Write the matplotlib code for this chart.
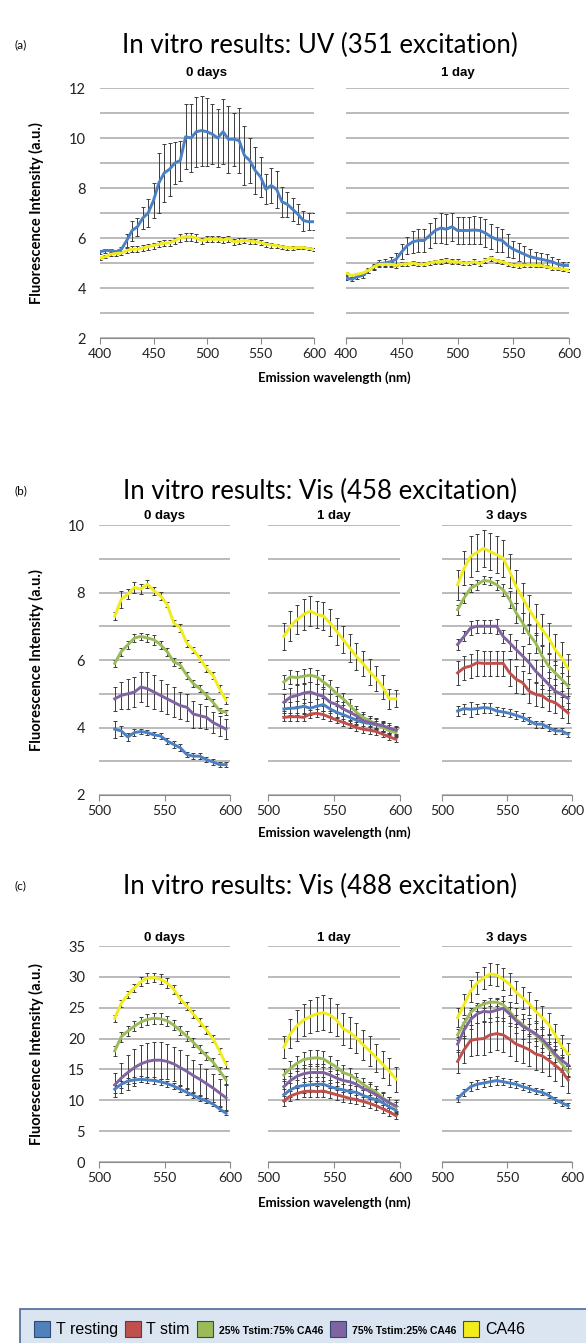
import matplotlib
matplotlib.use("Agg")
import matplotlib.pyplot as plt
from matplotlib.patches import Patch, Rectangle
from matplotlib.ticker import MultipleLocator

# ---- data ----
wl_uv = [400, 405, 410, 415, 420, 425, 430, 435, 440, 445, 450, 455, 460, 465,
         470, 475, 480, 485, 490, 495, 500, 505, 510, 515, 520, 525, 530, 535,
         540, 545, 550, 555, 560, 565, 570, 575, 580, 585, 590, 595, 600]
wl_vis = [512, 517, 522, 527, 532, 537, 542, 547, 552, 557, 562, 567, 572, 577,
          582, 587, 592, 597]

# (a) UV 351
a0_rest = [5.45, 5.5, 5.5, 5.45, 5.55, 5.9, 6.3, 6.45, 6.8, 7.0, 7.5, 8.2, 8.6, 8.75,
           9.0, 9.1, 10.05, 10.0, 10.25, 10.3, 10.25, 10.15, 10.0, 10.25, 9.95, 9.95,
           9.9, 9.3, 9.1, 8.7, 8.45, 7.95, 8.1, 7.95, 7.45, 7.35, 7.15, 6.95, 6.7, 6.65, 6.65]
a0_rest_err = [0.08, 0.08, 0.08, 0.08, 0.1, 0.25, 0.4, 0.35, 0.45, 0.55, 0.7, 1.2, 1.15,
               1.05, 0.85, 0.8, 1.3, 1.35, 1.4, 1.4, 1.35, 1.2, 1.15, 1.3, 1.35, 1.05, 1.3,
               1.2, 0.9, 0.95, 0.8, 0.6, 0.7, 0.75, 0.6, 0.5, 0.45, 0.4, 0.4, 0.35, 0.35]
a0_ca = [5.2, 5.25, 5.35, 5.38, 5.4, 5.5, 5.55, 5.55, 5.6, 5.65, 5.7, 5.75, 5.8, 5.8,
         5.9, 6.0, 6.05, 6.05, 6.0, 5.9, 5.95, 5.95, 5.95, 5.92, 5.97, 5.85, 5.87, 5.9,
         5.88, 5.85, 5.82, 5.75, 5.72, 5.7, 5.65, 5.62, 5.6, 5.62, 5.62, 5.58, 5.55]
a0_ca_err = [0.06, 0.06, 0.08, 0.08, 0.1, 0.1, 0.12, 0.12, 0.12, 0.12, 0.12, 0.12, 0.12,
             0.12, 0.12, 0.15, 0.15, 0.15, 0.15, 0.12, 0.12, 0.12, 0.12, 0.12, 0.12, 0.12,
             0.12, 0.1, 0.1, 0.1, 0.1, 0.1, 0.1, 0.08, 0.08, 0.08, 0.08, 0.06, 0.06, 0.06, 0.06]
a1_rest = [4.4, 4.35, 4.45, 4.5, 4.7, 4.85, 4.98, 5.0, 5.05, 5.15, 5.45, 5.7, 5.85, 5.9,
           5.9, 6.1, 6.3, 6.4, 6.35, 6.45, 6.3, 6.3, 6.3, 6.32, 6.3, 6.2, 6.05, 5.95, 5.9,
           5.7, 5.55, 5.45, 5.35, 5.25, 5.2, 5.15, 5.1, 5.05, 4.95, 4.9, 4.9]
a1_rest_err = [0.08, 0.08, 0.08, 0.08, 0.1, 0.12, 0.15, 0.15, 0.2, 0.25, 0.3, 0.35, 0.45,
               0.45, 0.45, 0.5, 0.5, 0.6, 0.6, 0.55, 0.55, 0.55, 0.55, 0.55, 0.55, 0.55,
               0.5, 0.5, 0.45, 0.45, 0.35, 0.35, 0.35, 0.3, 0.25, 0.25, 0.25, 0.2, 0.2, 0.15, 0.15]
a1_ca = [4.6, 4.5, 4.55, 4.6, 4.7, 4.85, 4.95, 4.95, 4.95, 4.9, 4.95, 4.97, 5.0, 4.95,
         4.95, 5.0, 5.05, 5.05, 5.1, 5.05, 5.05, 5.0, 5.0, 5.05, 4.98, 5.1, 5.2, 5.1, 5.05,
         4.98, 4.92, 4.9, 4.92, 4.92, 4.9, 4.9, 4.85, 4.8, 4.78, 4.75, 4.72]
a1_ca_err = [0.06, 0.06, 0.06, 0.06, 0.08, 0.08, 0.08, 0.08, 0.08, 0.08, 0.08, 0.08, 0.08,
             0.08, 0.08, 0.08, 0.08, 0.1, 0.1, 0.1, 0.1, 0.08, 0.08, 0.1, 0.1, 0.1, 0.1,
             0.08, 0.08, 0.08, 0.08, 0.08, 0.06, 0.06, 0.06, 0.06, 0.06, 0.06, 0.06, 0.06, 0.06]

# (b) Vis 458
b0_rest = [3.95, 3.9, 3.72, 3.85, 3.88, 3.85, 3.78, 3.75, 3.6, 3.5, 3.4, 3.2, 3.15, 3.15, 3.05, 2.98, 2.9, 2.9]
b0_rest_err = [0.25, 0.15, 0.12, 0.1, 0.08, 0.08, 0.08, 0.08, 0.1, 0.1, 0.1, 0.08, 0.08, 0.08, 0.08, 0.08, 0.08, 0.08]
b0_25 = [5.9, 6.25, 6.45, 6.65, 6.7, 6.65, 6.6, 6.45, 6.25, 5.95, 5.85, 5.55, 5.3, 5.15, 4.95, 4.75, 4.5, 4.45]
b0_25_err = [0.1, 0.12, 0.12, 0.12, 0.1, 0.12, 0.15, 0.12, 0.12, 0.12, 0.1, 0.1, 0.1, 0.1, 0.1, 0.1, 0.08, 0.08]
b0_75 = [4.85, 4.95, 5.0, 5.05, 5.2, 5.15, 5.05, 4.95, 4.85, 4.75, 4.65, 4.6, 4.4, 4.35, 4.3, 4.15, 4.05, 3.95]
b0_75_err = [0.35, 0.4, 0.45, 0.45, 0.45, 0.5, 0.5, 0.45, 0.45, 0.45, 0.4, 0.4, 0.4, 0.35, 0.35, 0.3, 0.3, 0.3]
b0_ca = [7.3, 7.8, 7.95, 8.15, 8.1, 8.25, 8.05, 7.9, 7.65, 7.1, 6.95, 6.5, 6.3, 6.05, 5.75, 5.55, 5.15, 4.8]
b0_ca_err = [0.12, 0.25, 0.15, 0.15, 0.15, 0.12, 0.12, 0.12, 0.08, 0.1, 0.12, 0.1, 0.1, 0.1, 0.1, 0.1, 0.1, 0.1]

b1_rest = [4.55, 4.57, 4.58, 4.63, 4.57, 4.63, 4.68, 4.55, 4.45, 4.38, 4.3, 4.22, 4.15, 4.12, 4.08, 4.03, 3.95, 3.9]
b1_rest_err = [0.2, 0.2, 0.2, 0.22, 0.2, 0.2, 0.2, 0.2, 0.18, 0.18, 0.18, 0.15, 0.15, 0.15, 0.12, 0.12, 0.12, 0.12]
b1_stim = [4.3, 4.32, 4.32, 4.3, 4.4, 4.42, 4.38, 4.3, 4.22, 4.15, 4.08, 4.0, 3.95, 3.92, 3.88, 3.8, 3.72, 3.65]
b1_stim_err = [0.12, 0.12, 0.12, 0.12, 0.12, 0.12, 0.12, 0.12, 0.1, 0.1, 0.1, 0.1, 0.1, 0.1, 0.1, 0.08, 0.08, 0.08]
b1_25 = [5.35, 5.5, 5.48, 5.52, 5.55, 5.5, 5.35, 5.2, 5.0, 4.85, 4.65, 4.45, 4.3, 4.2, 4.1, 4.0, 3.9, 3.85]
b1_25_err = [0.2, 0.2, 0.2, 0.22, 0.2, 0.2, 0.2, 0.2, 0.2, 0.18, 0.18, 0.18, 0.15, 0.15, 0.15, 0.12, 0.12, 0.1]
b1_75 = [4.75, 4.9, 4.95, 5.02, 5.05, 4.98, 4.92, 4.75, 4.68, 4.55, 4.45, 4.35, 4.2, 4.15, 4.1, 4.05, 3.98, 3.92]
b1_75_err = [0.25, 0.28, 0.3, 0.3, 0.3, 0.3, 0.28, 0.25, 0.25, 0.22, 0.22, 0.2, 0.2, 0.18, 0.18, 0.15, 0.15, 0.12]
b1_ca = [6.7, 7.0, 7.2, 7.35, 7.45, 7.35, 7.3, 7.1, 6.85, 6.6, 6.35, 6.1, 5.9, 5.65, 5.45, 5.2, 4.85, 4.85]
b1_ca_err = [0.4, 0.45, 0.42, 0.45, 0.45, 0.4, 0.42, 0.4, 0.4, 0.4, 0.42, 0.4, 0.38, 0.38, 0.38, 0.35, 0.3, 0.25]

b3_rest = [4.49, 4.56, 4.54, 4.56, 4.59, 4.57, 4.49, 4.46, 4.42, 4.36, 4.3, 4.2, 4.1, 4.1, 4.0, 3.9, 3.9, 3.8]
b3_rest_err = [0.15, 0.15, 0.22, 0.15, 0.15, 0.15, 0.12, 0.12, 0.12, 0.12, 0.12, 0.1, 0.1, 0.1, 0.1, 0.1, 0.08, 0.08]
b3_stim = [5.62, 5.77, 5.82, 5.92, 5.9, 5.9, 5.9, 5.9, 5.62, 5.43, 5.33, 5.08, 4.98, 4.94, 4.8, 4.74, 4.59, 4.43]
b3_stim_err = [0.35, 0.35, 0.35, 0.38, 0.38, 0.38, 0.38, 0.38, 0.4, 0.4, 0.35, 0.35, 0.35, 0.32, 0.32, 0.3, 0.3, 0.3]
b3_25 = [7.49, 7.84, 8.13, 8.23, 8.36, 8.33, 8.23, 8.08, 7.79, 7.4, 7.1, 6.76, 6.51, 6.12, 5.82, 5.62, 5.43, 5.23]
b3_25_err = [0.15, 0.15, 0.12, 0.15, 0.12, 0.12, 0.15, 0.18, 0.25, 0.3, 0.3, 0.3, 0.3, 0.3, 0.35, 0.35, 0.35, 0.3]
b3_75 = [6.46, 6.7, 6.95, 7.0, 7.0, 7.0, 7.0, 6.7, 6.51, 6.31, 6.12, 5.92, 5.67, 5.48, 5.28, 5.08, 4.98, 4.86]
b3_75_err = [0.15, 0.15, 0.2, 0.2, 0.2, 0.2, 0.22, 0.2, 0.25, 0.28, 0.3, 0.3, 0.32, 0.35, 0.35, 0.35, 0.35, 0.32]
b3_ca = [8.23, 8.72, 9.07, 9.19, 9.31, 9.21, 9.12, 9.02, 8.63, 8.18, 7.84, 7.49, 7.2, 6.9, 6.65, 6.31, 6.07, 5.74]
b3_ca_err = [0.45, 0.5, 0.6, 0.55, 0.55, 0.55, 0.55, 0.55, 0.5, 0.5, 0.45, 0.45, 0.45, 0.45, 0.45, 0.45, 0.45, 0.45]

# (c) Vis 488
c0_rest = [11.8, 12.6, 13.1, 13.3, 13.4, 13.3, 13.2, 13.0, 12.7, 12.3, 11.8, 11.3, 10.8, 10.3, 9.9, 9.4, 8.6, 7.9]
c0_rest_err = [0.7, 0.6, 0.5, 0.5, 0.5, 0.5, 0.5, 0.5, 0.5, 0.5, 0.5, 0.5, 0.4, 0.4, 0.4, 0.3, 0.3, 0.3]
c0_25 = [18.0, 20.3, 21.2, 22.0, 22.7, 23.1, 23.3, 23.2, 22.9, 22.2, 21.3, 20.4, 19.4, 18.3, 17.2, 16.2, 14.8, 13.3]
c0_25_err = [0.8, 0.8, 0.8, 0.8, 0.8, 0.9, 0.9, 0.9, 0.8, 0.8, 0.8, 0.8, 0.7, 0.7, 0.7, 0.7, 0.6, 0.6]
c0_75 = [12.5, 13.6, 14.5, 15.3, 15.9, 16.3, 16.5, 16.5, 16.3, 15.9, 15.3, 14.7, 14.0, 13.4, 12.7, 12.0, 11.2, 10.4]
c0_75_err = [2.0, 2.5, 2.8, 3.0, 3.0, 3.0, 3.0, 3.0, 2.9, 2.8, 2.8, 2.7, 2.6, 2.5, 2.4, 2.3, 2.2, 2.0]
c0_ca = [23.3, 25.7, 27.1, 28.2, 29.2, 29.8, 29.9, 29.6, 29.0, 28.0, 26.4, 25.3, 24.0, 22.7, 21.4, 20.0, 18.0, 15.8]
c0_ca_err = [0.6, 0.6, 0.6, 0.7, 0.7, 0.8, 0.8, 0.8, 0.8, 0.7, 0.7, 0.7, 0.7, 0.6, 0.6, 0.6, 0.5, 0.5]

c1_rest = [10.9, 11.7, 12.2, 12.4, 12.5, 12.6, 12.6, 12.2, 11.9, 11.7, 11.4, 11.3, 10.8, 10.4, 10.1, 9.6, 8.9, 8.4]
c1_rest_err = [1.0, 1.1, 1.1, 1.2, 1.2, 1.2, 1.2, 1.1, 1.1, 1.0, 1.0, 1.0, 0.9, 0.9, 0.8, 0.8, 0.7, 0.7]
c1_stim = [9.9, 10.7, 11.1, 11.4, 11.5, 11.4, 11.5, 11.2, 10.9, 10.6, 10.3, 10.1, 9.8, 9.5, 9.1, 8.6, 8.1, 7.5]
c1_stim_err = [0.8, 0.8, 0.9, 0.9, 0.9, 0.9, 0.9, 0.8, 0.8, 0.8, 0.8, 0.7, 0.7, 0.7, 0.6, 0.6, 0.6, 0.5]
c1_25 = [14.1, 15.2, 16.0, 16.6, 16.8, 16.9, 16.7, 16.0, 15.4, 14.5, 14.1, 13.4, 12.6, 11.9, 11.3, 10.4, 9.6, 8.9]
c1_25_err = [1.0, 1.2, 1.2, 1.3, 1.3, 1.3, 1.3, 1.2, 1.2, 1.2, 1.1, 1.1, 1.0, 1.0, 1.0, 0.9, 0.9, 0.8]
c1_75 = [12.2, 13.2, 13.9, 14.3, 14.5, 14.5, 14.5, 14.1, 13.6, 13.2, 13.0, 12.6, 11.9, 11.5, 10.9, 10.2, 9.6, 9.1]
c1_75_err = [1.2, 1.3, 1.4, 1.4, 1.4, 1.4, 1.4, 1.3, 1.3, 1.3, 1.2, 1.2, 1.1, 1.1, 1.0, 1.0, 0.9, 0.9]
c1_ca = [18.6, 20.8, 22.1, 23.0, 23.6, 24.0, 24.2, 23.8, 23.0, 21.6, 21.0, 20.1, 19.0, 18.0, 16.9, 15.8, 14.7, 13.4]
c1_ca_err = [1.8, 2.3, 2.5, 2.6, 2.7, 2.8, 2.8, 2.7, 2.6, 2.6, 2.5, 2.5, 2.4, 2.4, 2.3, 2.2, 2.2, 2.0]

c3_rest = [10.3, 11.3, 12.2, 12.6, 12.8, 13.0, 13.2, 13.0, 12.8, 12.6, 12.2, 11.9, 11.5, 11.3, 10.8, 10.1, 9.6, 9.1]
c3_rest_err = [0.6, 0.6, 0.7, 0.7, 0.7, 0.7, 0.7, 0.6, 0.6, 0.6, 0.6, 0.6, 0.5, 0.5, 0.5, 0.5, 0.5, 0.4]
c3_stim = [16.3, 18.2, 19.7, 19.9, 20.0, 20.6, 20.8, 20.6, 19.9, 19.1, 18.7, 18.2, 17.5, 17.2, 16.5, 15.7, 14.8, 13.3]
c3_stim_err = [1.8, 2.2, 2.5, 2.6, 2.7, 2.7, 2.7, 2.7, 2.7, 2.7, 2.7, 2.6, 2.6, 2.6, 2.6, 2.6, 2.5, 2.2]
c3_25 = [20.6, 22.5, 24.2, 25.1, 25.6, 25.9, 25.9, 25.5, 24.4, 23.1, 22.3, 21.4, 20.6, 19.5, 18.4, 17.2, 15.9, 14.6]
c3_25_err = [0.9, 0.8, 0.7, 0.6, 0.6, 0.6, 0.6, 0.6, 0.7, 0.8, 0.9, 1.0, 1.0, 1.0, 1.0, 1.0, 1.0, 0.9]
c3_75 = [19.1, 21.4, 23.1, 24.0, 24.4, 24.3, 24.6, 24.9, 24.0, 22.9, 22.0, 21.4, 20.8, 19.9, 18.8, 17.5, 16.5, 15.7]
c3_75_err = [1.2, 1.3, 1.5, 1.5, 1.5, 1.6, 1.8, 2.0, 2.0, 2.0, 2.0, 2.0, 2.0, 2.0, 2.0, 2.0, 1.9, 1.8]
c3_ca = [23.4, 25.5, 27.7, 29.0, 29.8, 30.5, 30.3, 29.6, 28.8, 27.5, 26.6, 25.7, 24.4, 23.4, 22.3, 20.6, 18.8, 17.5]
c3_ca_err = [1.5, 1.7, 1.8, 1.8, 1.8, 1.8, 1.8, 1.8, 1.8, 1.8, 1.8, 1.8, 1.8, 1.8, 1.8, 1.8, 1.8, 1.8]

day_titles = ["0 days", "1 day", "3 days"]
legend_labels = ["T resting", "T stim", "25% Tstim:75% CA46", "75% Tstim:25% CA46", "CA46"]
panel_titles = ["In vitro results: UV (351 excitation)",
                "In vitro results: Vis (458 excitation)",
                "In vitro results: Vis (488 excitation)"]

# ---- styling ----
C_REST, C_STIM, C_25, C_75, C_CA = "#4a80c4", "#c0504d", "#9bbb59", "#8064a2", "#f2ec1c"
LEG_COLORS = ["#4f81bd", "#c0504d", "#9bbb59", "#8064a2", "#f2ec1c"]
GRID = "#a8a8a8"
TXT = "Lato"
ARIAL = "Liberation Sans"

W, H = 586, 1343
fig = plt.figure(figsize=(W / 100, H / 100), dpi=100)


def add_ax(x0, x1, y0, y1):
    return fig.add_axes([x0 / W, 1 - y1 / H, (x1 - x0) / W, (y1 - y0) / H])


def style(ax, ylim, major, minor, xlim, xticks, show_y):
    ax.set_xlim(xlim)
    ax.set_ylim(ylim)
    ax.yaxis.set_major_locator(MultipleLocator(major))
    ax.yaxis.set_minor_locator(MultipleLocator(minor))
    ax.grid(True, which="both", axis="y", color=GRID, lw=1.1)
    ax.set_axisbelow(True)
    for s in ["top", "right", "left"]:
        ax.spines[s].set_visible(False)
    ax.spines["bottom"].set_color("#8c8c8c")
    ax.set_xticks(xticks)
    ax.tick_params(axis="y", which="both", length=0, labelsize=10.5, pad=10, labelcolor="#222222")
    ax.tick_params(axis="x", length=4, color="#8c8c8c", labelsize=10, labelcolor="#222222", pad=3)
    for lab in ax.get_xticklabels() + ax.get_yticklabels():
        lab.set_family(TXT)
    if not show_y:
        ax.tick_params(axis="y", labelleft=False)


def series(ax, x, y, e, c):
    ax.errorbar(x, y, yerr=e, color=c, lw=2.1, ecolor="#3c3c3c",
                elinewidth=0.7, capsize=1.4, capthick=0.7, zorder=3)


def day_title(ax, txt, ypx):
    b = ax.get_position()
    fig.text((b.x0 + b.x1) / 2, 1 - ypx / H, txt, ha="center", va="center",
             fontsize=9.5, fontweight="bold", family=ARIAL)


def panel_text(tag, title, ypx, ylab_c, xlab_y):
    fig.text(14 / W, 1 - ypx / H, tag, ha="left", va="center", fontsize=8.5, family=TXT)
    fig.text(320 / W, 1 - ypx / H, title, ha="center", va="center", fontsize=18.5, family=TXT)
    fig.text(36 / W, 1 - ylab_c / H, "Fluorescence Intensity (a.u.)", rotation=90,
             ha="center", va="center", fontsize=10.5, fontweight="bold", family=TXT)
    fig.text(334 / W, 1 - xlab_y / H, "Emission wavelength (nm)", ha="center",
             va="center", fontsize=9.5, fontweight="bold", family=TXT)


# ---- panel (a) ----
a_x = [(100, 314), (346, 569)]
a_sets = [[(a0_rest, a0_rest_err, C_REST), (a0_ca, a0_ca_err, C_CA)],
          [(a1_rest, a1_rest_err, C_REST), (a1_ca, a1_ca_err, C_CA)]]
for i, (xr, sets) in enumerate(zip(a_x, a_sets)):
    ax = add_ax(xr[0], xr[1], 88, 338)
    style(ax, (2, 12), 2, 1, (400, 600), [400, 450, 500, 550, 600], i == 0)
    for y, e, c in sets:
        series(ax, wl_uv, y, e, c)
    day_title(ax, day_titles[i], 73)
panel_text("(a)", panel_titles[0], 45, 213, 378)

# ---- panels (b) and (c) ----
bc_x = [(99, 230), (268, 400), (442, 572)]
b_sets = [[(b0_rest, b0_rest_err, C_REST), (b0_25, b0_25_err, C_25),
           (b0_75, b0_75_err, C_75), (b0_ca, b0_ca_err, C_CA)],
          [(b1_rest, b1_rest_err, C_REST), (b1_stim, b1_stim_err, C_STIM), (b1_25, b1_25_err, C_25),
           (b1_75, b1_75_err, C_75), (b1_ca, b1_ca_err, C_CA)],
          [(b3_rest, b3_rest_err, C_REST), (b3_stim, b3_stim_err, C_STIM), (b3_25, b3_25_err, C_25),
           (b3_75, b3_75_err, C_75), (b3_ca, b3_ca_err, C_CA)]]
c_sets = [[(c0_rest, c0_rest_err, C_REST), (c0_25, c0_25_err, C_25),
           (c0_75, c0_75_err, C_75), (c0_ca, c0_ca_err, C_CA)],
          [(c1_rest, c1_rest_err, C_REST), (c1_stim, c1_stim_err, C_STIM), (c1_25, c1_25_err, C_25),
           (c1_75, c1_75_err, C_75), (c1_ca, c1_ca_err, C_CA)],
          [(c3_rest, c3_rest_err, C_REST), (c3_stim, c3_stim_err, C_STIM), (c3_25, c3_25_err, C_25),
           (c3_75, c3_75_err, C_75), (c3_ca, c3_ca_err, C_CA)]]

for i, (xr, sets) in enumerate(zip(bc_x, b_sets)):
    ax = add_ax(xr[0], xr[1], 525, 795)
    style(ax, (2, 10), 2, 1, (500, 600), [500, 550, 600], i == 0)
    for y, e, c in sets:
        series(ax, wl_vis, y, e, c)
    day_title(ax, day_titles[i], 516)
panel_text("(b)", panel_titles[1], 491, 660, 833)

for i, (xr, sets) in enumerate(zip(bc_x, c_sets)):
    ax = add_ax(xr[0], xr[1], 946, 1162)
    style(ax, (0, 35), 5, 5, (500, 600), [500, 550, 600], i == 0)
    for y, e, c in sets:
        series(ax, wl_vis, y, e, c)
    day_title(ax, day_titles[i], 938)
panel_text("(c)", panel_titles[2], 886, 1054, 1203)

# ---- legend ----
fig.patches.append(Rectangle((20 / W, 1 - 1360 / H), 580 / W, 51 / H, transform=fig.transFigure,
                             facecolor="#dbe5f1", edgecolor="#4a6a99", lw=1.2))
handles = [Patch(facecolor=c, edgecolor="#2f4b74", lw=0.8) for c in LEG_COLORS]
leg = fig.legend(handles, legend_labels, loc="center left", bbox_to_anchor=(26 / W, 1 - 1329 / H),
                 ncol=5, frameon=False, handlelength=1.0, handleheight=1.2, handletextpad=0.35,
                 columnspacing=0.45, borderpad=0, prop={"family": ARIAL, "size": 11.5})
for k, t in enumerate(leg.get_texts()):
    if k in (2, 3):
        t.set_fontsize(7.5)
        t.set_fontweight("bold")

fig.savefig("out.png", dpi=100)
